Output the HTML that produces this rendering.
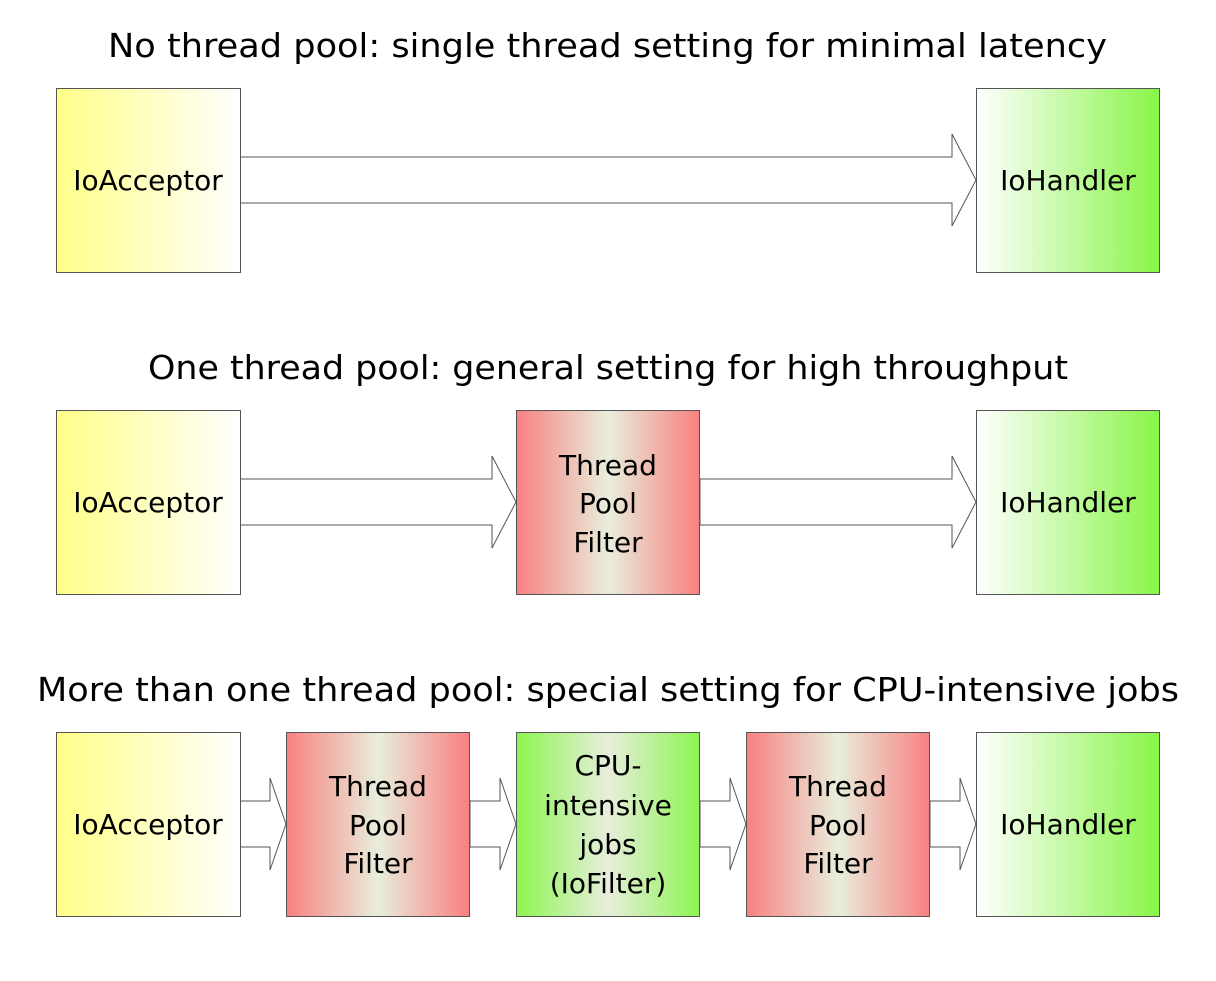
<!DOCTYPE html>
<html><head><meta charset="utf-8"><style>html,body{margin:0;padding:0;background:#fff}</style></head>
<body>
<svg width="1216" height="976" viewBox="0 0 1216 976" xmlns="http://www.w3.org/2000/svg" font-family="DejaVu Sans, Liberation Sans, sans-serif">
<defs>
<linearGradient id="y" x1="0" x2="1" y1="0" y2="0"><stop offset="0" stop-color="#ffff88"/><stop offset="1" stop-color="#ffffff"/></linearGradient>
<linearGradient id="g" x1="0" x2="1" y1="0" y2="0"><stop offset="0" stop-color="#ffffff"/><stop offset="1" stop-color="#88f548"/></linearGradient>
<linearGradient id="r" x1="0" x2="1" y1="0" y2="0"><stop offset="0" stop-color="#f88080"/><stop offset="0.5" stop-color="#e8eedc"/><stop offset="1" stop-color="#f88080"/></linearGradient>
<linearGradient id="c" x1="0" x2="1" y1="0" y2="0"><stop offset="0" stop-color="#8cf550"/><stop offset="0.5" stop-color="#e8eedc"/><stop offset="1" stop-color="#8cf550"/></linearGradient>
</defs>
<g font-size="33" fill="#000">
<text x="108" y="57" textLength="999" lengthAdjust="spacingAndGlyphs">No thread pool: single thread setting for minimal latency</text>
<text x="148" y="379" textLength="920" lengthAdjust="spacingAndGlyphs">One thread pool: general setting for high throughput</text>
<text x="37" y="701" textLength="1142" lengthAdjust="spacingAndGlyphs">More than one thread pool: special setting for CPU-intensive jobs</text>
</g>
<g stroke="#555" stroke-width="1" fill="#fff">
<path d="M240,157 H952 V134 L976,180 L952,226 V203 H240 Z"/>
<path d="M240,479 H492 V456 L516,502 L492,548 V525 H240 Z"/>
<path d="M700,479 H952 V456 L976,502 L952,548 V525 H700 Z"/>
<path d="M240,801 H270 V778 L286,824 L270,870 V847 H240 Z"/>
<path d="M470,801 H500 V778 L516,824 L500,870 V847 H470 Z"/>
<path d="M700,801 H730 V778 L746,824 L730,870 V847 H700 Z"/>
<path d="M930,801 H960 V778 L976,824 L960,870 V847 H930 Z"/>
</g>
<g stroke="#555" stroke-width="1">
<rect x="56.5" y="88.5" width="184" height="184" fill="url(#y)"/>
<rect x="976.5" y="88.5" width="183" height="184" fill="url(#g)"/>
<rect x="56.5" y="410.5" width="184" height="184" fill="url(#y)"/>
<rect x="516.5" y="410.5" width="183" height="184" fill="url(#r)"/>
<rect x="976.5" y="410.5" width="183" height="184" fill="url(#g)"/>
<rect x="56.5" y="732.5" width="184" height="184" fill="url(#y)"/>
<rect x="286.5" y="732.5" width="183" height="184" fill="url(#r)"/>
<rect x="516.5" y="732.5" width="183" height="184" fill="url(#c)"/>
<rect x="746.5" y="732.5" width="183" height="184" fill="url(#r)"/>
<rect x="976.5" y="732.5" width="183" height="184" fill="url(#g)"/>
</g>
<g font-size="28" text-anchor="middle" fill="#000">
<text x="148" y="190">IoAcceptor</text>
<text x="1068" y="190">IoHandler</text>
<text x="148" y="512">IoAcceptor</text>
<text x="608" y="475">Thread</text><text x="608" y="513">Pool</text><text x="608" y="552">Filter</text>
<text x="1068" y="512">IoHandler</text>
<text x="148" y="834">IoAcceptor</text>
<text x="378" y="796">Thread</text><text x="378" y="835">Pool</text><text x="378" y="873">Filter</text>
<text x="608" y="775">CPU-</text><text x="608" y="815">intensive</text><text x="608" y="854">jobs</text><text x="608" y="893">(IoFilter)</text>
<text x="838" y="796">Thread</text><text x="838" y="835">Pool</text><text x="838" y="873">Filter</text>
<text x="1068" y="834">IoHandler</text>
</g>
</svg>
</body></html>
